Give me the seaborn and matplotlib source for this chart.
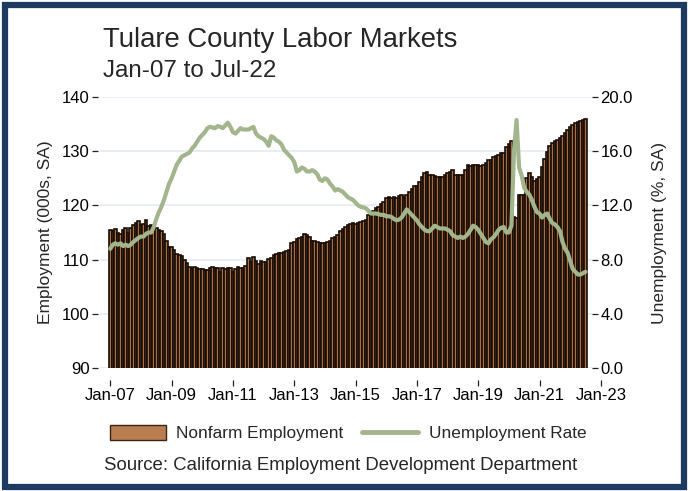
import numpy as np
import pandas as pd
import matplotlib
matplotlib.use("Agg")
import matplotlib.pyplot as plt
from matplotlib.patches import Patch, Rectangle
from matplotlib.lines import Line2D
import seaborn as sns

# ---------------- data ----------------
months = pd.date_range("2007-01-01", "2022-07-01", freq="MS")

emp_2007 = [115.5, 115.3, 115.7, 115.0, 114.8, 115.4, 115.8, 115.0, 115.9, 116.4, 116.8, 117.2]
emp_2008 = [116.4, 116.5, 117.3, 116.2, 116.3, 116.0, 115.9, 115.5, 115.2, 114.8, 113.5, 112.3]
emp_2009 = [112.3, 111.8, 111.0, 110.8, 110.7, 110.0, 109.4, 108.6, 108.5, 108.6, 108.4, 108.2]
emp_2010 = [108.2, 108.1, 108.0, 108.4, 108.6, 108.5, 108.5, 107.7, 108.4, 108.3, 108.5, 108.4]
emp_2011 = [107.8, 108.3, 108.6, 108.4, 108.5, 108.9, 110.3, 109.5, 110.5, 109.7, 109.2, 109.7]
emp_2012 = [109.6, 109.5, 110.1, 110.3, 110.8, 111.0, 111.2, 111.2, 111.4, 111.6, 111.8, 113.0]
emp_2013 = [113.3, 113.8, 114.0, 114.1, 114.7, 114.5, 114.2, 113.4, 113.5, 113.2, 113.0, 113.0]
emp_2014 = [113.0, 113.2, 113.4, 114.0, 114.1, 114.5, 115.2, 115.6, 116.0, 116.4, 116.6, 116.7]
emp_2015 = [116.5, 116.7, 116.9, 117.1, 117.3, 118.2, 118.2, 118.9, 119.5, 119.7, 120.2, 120.6]
emp_2016 = [121.3, 121.5, 121.4, 121.6, 121.4, 121.7, 121.9, 121.5, 121.9, 122.5, 123.0, 123.6]
emp_2017 = [123.5, 124.3, 125.2, 126.0, 126.2, 125.6, 125.6, 125.5, 125.2, 125.2, 125.3, 125.6]
emp_2018 = [126.0, 126.1, 126.5, 125.7, 125.6, 125.6, 125.7, 126.5, 127.5, 127.2, 127.4, 127.5]
emp_2019 = [127.5, 127.2, 127.5, 127.8, 128.4, 128.4, 129.0, 129.2, 129.3, 129.7, 129.7, 130.8]
emp_2020 = [131.4, 131.9, 117.9, 117.6, 121.9, 121.9, 122.0, 125.1, 126.0, 125.2, 124.5, 124.9]
emp_2021 = [125.3, 127.0, 128.5, 129.8, 131.0, 131.5, 131.9, 132.1, 132.4, 132.8, 133.4, 134.0]
emp_2022 = [134.5, 134.9, 135.2, 135.4, 135.6, 135.8, 136.0]

ur_2007 = [8.8, 9.1, 9.2, 9.1, 9.2, 9.0, 9.1, 9.0, 9.1, 9.3, 9.45, 9.6]
ur_2008 = [9.7, 9.7, 9.9, 10.0, 10.0, 10.4, 11.0, 11.5, 11.9, 12.4, 13.0, 13.6]
ur_2009 = [14.0, 14.5, 15.0, 15.3, 15.6, 15.7, 15.8, 15.9, 16.2, 16.4, 16.7, 17.0]
ur_2010 = [17.2, 17.4, 17.7, 17.8, 17.75, 17.7, 17.85, 17.8, 17.7, 17.9, 18.1, 17.8]
ur_2011 = [17.4, 17.3, 17.5, 17.7, 17.6, 17.6, 17.6, 17.7, 17.8, 17.3, 17.1, 17.0]
ur_2012 = [16.9, 16.7, 16.4, 17.1, 17.0, 16.8, 16.7, 16.5, 16.1, 15.9, 15.7, 15.5]
ur_2013 = [15.2, 14.5, 14.6, 14.8, 14.7, 14.5, 14.5, 14.6, 14.5, 14.3, 13.9, 13.8]
ur_2014 = [14.0, 13.9, 13.6, 13.4, 13.1, 13.2, 13.1, 13.0, 12.8, 12.6, 12.5, 12.4]
ur_2015 = [12.2, 12.0, 11.9, 11.85, 11.8, 11.6, 11.4, 11.4, 11.4, 11.35, 11.3, 11.3]
ur_2016 = [11.2, 11.2, 11.15, 11.0, 10.9, 10.95, 11.1, 11.4, 11.7, 11.5, 11.3, 11.1]
ur_2017 = [10.9, 10.6, 10.4, 10.2, 10.1, 10.1, 10.3, 10.5, 10.4, 10.3, 10.3, 10.3]
ur_2018 = [10.2, 10.1, 9.8, 9.7, 9.6, 9.7, 9.6, 9.7, 9.9, 10.2, 10.5, 10.4]
ur_2019 = [10.2, 9.9, 9.6, 9.3, 9.2, 9.5, 9.65, 9.9, 10.2, 10.35, 10.4, 10.0]
ur_2020 = [10.0, 10.5, 16.0, 18.3, 14.8, 14.2, 13.3, 13.0, 12.8, 12.4, 11.9, 11.5]
ur_2021 = [11.4, 11.1, 11.3, 11.4, 11.0, 10.7, 10.6, 10.4, 10.1, 9.3, 8.8, 8.5]
ur_2022 = [7.9, 7.3, 7.1, 6.9, 6.9, 7.0, 7.1]

employment = (emp_2007 + emp_2008 + emp_2009 + emp_2010 + emp_2011 + emp_2012 +
              emp_2013 + emp_2014 + emp_2015 + emp_2016 + emp_2017 + emp_2018 +
              emp_2019 + emp_2020 + emp_2021 + emp_2022)
unemployment = (ur_2007 + ur_2008 + ur_2009 + ur_2010 + ur_2011 + ur_2012 +
                ur_2013 + ur_2014 + ur_2015 + ur_2016 + ur_2017 + ur_2018 +
                ur_2019 + ur_2020 + ur_2021 + ur_2022)

tick_years = [2007, 2009, 2011, 2013, 2015, 2017, 2019, 2021, 2023]
tick_labels = ["Jan-07", "Jan-09", "Jan-11", "Jan-13", "Jan-15", "Jan-17", "Jan-19", "Jan-21", "Jan-23"]
left_ticks = [90, 100, 110, 120, 130, 140]
right_ticks = [0, 4, 8, 12, 16, 20]
right_labels = ["0.0", "4.0", "8.0", "12.0", "16.0", "20.0"]

df = pd.DataFrame({
    "t": months.year + (months.month - 1) / 12.0,
    "employment": employment,
    "unemployment": unemployment,
})

# ---------------- style ----------------
sns.set_theme(style="white")
plt.rcParams["font.family"] = ["Liberation Sans", "DejaVu Sans"]

W, H = 690, 491
fig = plt.figure(figsize=(W / 100, H / 100), dpi=100)
fig.patch.set_facecolor("white")

# pixel geometry
px_jan07 = 110.3
px_per_year = 30.66
ax_left_px, ax_right_px = 100, 607
ax_top_px, ax_bot_px = 97, 368

def px_to_year(px):
    return 2007 + (px - px_jan07) / px_per_year

ax = fig.add_axes([ax_left_px / W, 1 - ax_bot_px / H,
                   (ax_right_px - ax_left_px) / W, (ax_bot_px - ax_top_px) / H])
ax.set_facecolor("none")

bar_face = "#a86f45"
bar_edge = "#180d06"
line_col = "#a3b58d"

sns.barplot(data=df, x="t", y="employment", native_scale=True, width=1.0,
            color=bar_face, saturation=1, edgecolor=bar_edge, linewidth=1.2,
            ax=ax, zorder=2)

x0 = px_to_year(ax_left_px)
x1 = px_to_year(ax_right_px)
grid_end = px_to_year(592)
ax.set_xlim(x0, x1)
ax.set_ylim(90, 140)
ax.hlines(left_ticks, x0, grid_end, color="#e6edf2", lw=1.3, zorder=0)

ax2 = ax.twinx()
sns.lineplot(data=df, x="t", y="unemployment", color=line_col, linewidth=3.0, ax=ax2,
             zorder=3)
ax2.set_ylim(0, 20)
ax2.set_xlim(x0, x1)

for a in (ax, ax2):
    for s in a.spines.values():
        s.set_visible(False)

ax.spines["bottom"].set_position(("outward", 8.6))
ax.spines["left"].set_position(("outward", 1.5))
ax2.spines["right"].set_position(("data", grid_end))

ax.set_xticks(tick_years)
ax.set_xticklabels(tick_labels)
ax.set_yticks(left_ticks)
ax.set_yticklabels([str(v) for v in left_ticks])
ax2.set_yticks(right_ticks)
ax2.set_yticklabels(right_labels)

tick_kw = dict(direction="out", length=4, width=0.9, color="#222222",
               labelsize=12, labelcolor="black", pad=2)
ax.tick_params(axis="x", bottom=True, **tick_kw)
ax.tick_params(axis="y", left=True, **tick_kw)
ax2.tick_params(axis="y", right=True, **tick_kw)

ax.set_xlabel("")
ax.set_ylabel("Employment (000s, SA)", fontsize=12.5, labelpad=6)
ax2.set_ylabel("Unemployment (%, SA)", fontsize=12.5, labelpad=14)

# titles
fig.text(103 / W, 1 - 40 / H, "Tulare County Labor Markets", fontsize=19.8,
         va="center", ha="left")
fig.text(103 / W, 1 - 71 / H, "Jan-07 to Jul-22", fontsize=17.4,
         va="center", ha="left")

# legend
handles = [Patch(facecolor="#b97d52", edgecolor="#3b2314", lw=1.0),
           Line2D([0], [0], color=line_col, lw=3.5)]
fig.legend(handles, ["Nonfarm Employment", "Unemployment Rate"],
           loc="center", bbox_to_anchor=(348 / W, 1 - 433 / H), ncol=2,
           frameon=False, fontsize=12.4, handlelength=3.25, handleheight=1.0,
           handletextpad=0.6, columnspacing=1.1)

fig.text(341 / W, 1 - 466 / H, "Source: California Employment Development Department",
         fontsize=13.4, ha="center", va="center")

# outer navy frame
fig.patches.append(Rectangle((5 / W, 4 / H), 679 / W, 482 / H, transform=fig.transFigure,
                             fill=False, edgecolor="#1d3a60", lw=4.5))

fig.savefig("out.png", dpi=100)
